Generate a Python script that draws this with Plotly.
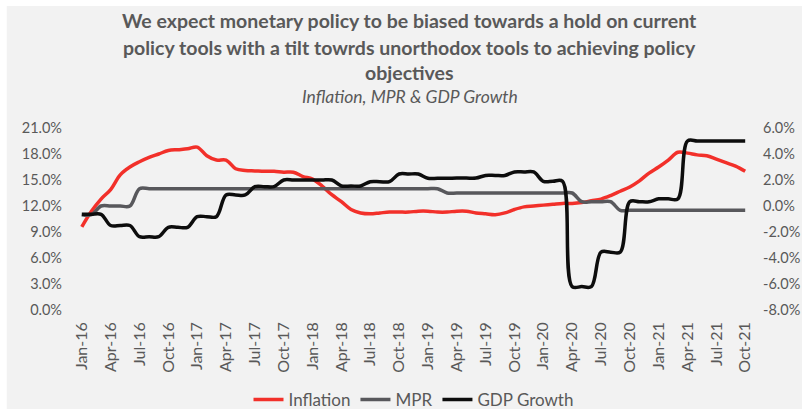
import plotly.graph_objects as go

month_names = ["Jan", "Feb", "Mar", "Apr", "May", "Jun", "Jul", "Aug", "Sep", "Oct", "Nov", "Dec"]
years = [16, 17, 18, 19, 20, 21]
months = [f"{m}-{y}" for y in years for m in month_names][:70]

inflation = [
    9.6, 11.4, 12.8, 13.9, 15.6, 16.5, 17.1, 17.6, 18.0, 18.4, 18.5, 18.6,
    18.8, 17.8, 17.3, 17.3, 16.3, 16.1, 16.05, 16.0, 16.0, 15.9, 15.9, 15.4,
    15.1, 14.3, 13.3, 12.5, 11.6, 11.2, 11.1, 11.2, 11.3, 11.3, 11.3, 11.4,
    11.4, 11.3, 11.3, 11.4, 11.4, 11.2, 11.1, 11.0, 11.2, 11.6, 11.9, 12.0,
    12.1, 12.2, 12.3, 12.3, 12.4, 12.6, 12.8, 13.2, 13.7, 14.2, 14.9, 15.8,
    16.5, 17.3, 18.2, 18.1, 17.9, 17.8, 17.4, 17.0, 16.6, 16.0,
]

mpr = [
    11, 11, 12, 12, 12, 12, 14, 14, 14, 14, 14, 14,
    14, 14, 14, 14, 14, 14, 14, 14, 14, 14, 14, 14,
    14, 14, 14, 14, 14, 14, 14, 14, 14, 14, 14, 14,
    14, 14, 13.5, 13.5, 13.5, 13.5, 13.5, 13.5, 13.5, 13.5, 13.5, 13.5,
    13.5, 13.5, 13.5, 13.5, 12.5, 12.5, 12.5, 12.5, 11.5, 11.5, 11.5, 11.5,
    11.5, 11.5, 11.5, 11.5, 11.5, 11.5, 11.5, 11.5, 11.5, 11.5,
]

gdp_quarterly = [
    -0.64, -1.5, -2.36, -1.64,
    -0.82, 0.85, 1.49, 2.0,
    2.0, 1.54, 1.87, 2.46,
    2.13, 2.15, 2.35, 2.62,
    1.9, -6.2, -3.55, 0.33,
    0.55, 5.0, 5.0, 5.0,
]
gdp = [q for q in gdp_quarterly for _ in range(3)][:70]

left_ticks = [0, 3, 6, 9, 12, 15, 18, 21]
right_ticks = [-8, -6, -4, -2, 0, 2, 4, 6]

FONT = "Lato"
GREY = "#595959"
BG = "#f2f2f2"

fig = go.Figure()
fig.add_trace(go.Scatter(x=months, y=inflation, name="Inflation", mode="lines",
                         line=dict(color="#f2302a", width=3.5, shape="spline")))
fig.add_trace(go.Scatter(x=months, y=mpr, name="MPR", mode="lines",
                         line=dict(color="#58585c", width=3.5, shape="spline")))
fig.add_trace(go.Scatter(x=months, y=gdp, name="GDP Growth", mode="lines", yaxis="y2",
                         line=dict(color="#0d0d0d", width=3.5, shape="spline")))

L, R, T, B = 77.2, 52.2, 128, 99
pw = 802 - L - R
ph = 409 - T - B

def px(p):
    return (p - L) / pw

def py(p):
    return (409 - B - p) / ph

fig.update_layout(
    template="none",
    width=802, height=409, autosize=False,
    margin=dict(l=L, r=R, t=T, b=B, pad=0, autoexpand=False),
    paper_bgcolor=BG, plot_bgcolor=BG,
    font=dict(family=FONT, color=GREY),
    showlegend=True,
    legend=dict(orientation="h", x=0.5, xanchor="center", y=py(400), yanchor="middle",
                font=dict(size=17, color=GREY), itemwidth=30, bgcolor="rgba(0,0,0,0)",
                borderwidth=0),
    xaxis=dict(type="category", range=[-0.5, 69.5], tickmode="array",
               tickvals=months[::3], ticktext=months[::3], tickangle=-90,
               showgrid=False, zeroline=False, showline=False, ticks="", automargin=False,
               tickfont=dict(size=16, color=GREY), ticklabelstandoff=8),
    yaxis=dict(range=[0, 21], tickvals=left_ticks,
               ticktext=[f"{v:.1f}%" for v in left_ticks],
               showgrid=False, zeroline=False, showline=False, ticks="", automargin=False,
               tickfont=dict(size=14.5, color=GREY), ticklabelstandoff=14),
    yaxis2=dict(range=[-8, 6], tickvals=right_ticks,
                ticktext=[f"{v:.1f}%" for v in right_ticks],
                overlaying="y", side="right",
                showgrid=False, zeroline=False, showline=False, ticks="", automargin=False,
                tickfont=dict(size=14.5, color=GREY), ticklabelstandoff=12),
    shapes=[
        dict(type="rect", xref="paper", yref="paper", x0=px(0), x1=px(802), y0=py(6), y1=py(0),
             fillcolor="white", line=dict(width=0), layer="above"),
        dict(type="rect", xref="paper", yref="paper", x0=px(0), x1=px(7), y0=py(409), y1=py(0),
             fillcolor="white", line=dict(width=0), layer="above"),
    ],
)

title_lines = [
    ("<b>We expect monetary policy to be biased towards a hold on current</b>", 20, 19.5),
    ("<b>policy tools with a tilt towrds unorthodox tools to achieving policy</b>", 47, 19.5),
    ("<b>objectives</b>", 72, 19.5),
    ("<i>Inflation, MPR &amp; GDP Growth</i>", 96, 17.5),
]
for text, ypix, size in title_lines:
    fig.add_annotation(text=text, xref="paper", yref="paper", x=px(410), y=py(ypix),
                       xanchor="center", yanchor="middle", showarrow=False,
                       font=dict(size=size, color=GREY, family=FONT))

fig.write_html("out.html")
